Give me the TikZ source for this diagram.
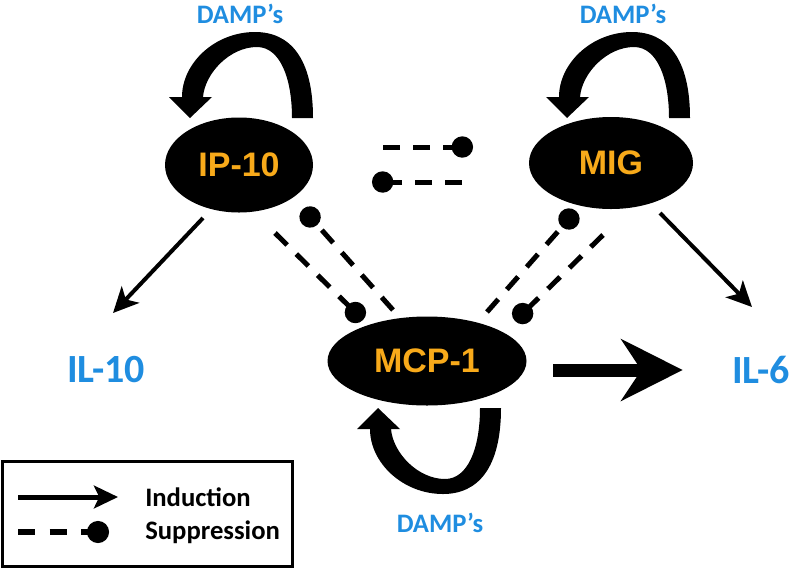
\documentclass[tikz,border=0pt]{standalone}
\usepackage{fontspec}
\setmainfont{Carlito}
\newfontfamily\arialbf{Liberation Sans}[BoldFont={* Bold}]
\usetikzlibrary{arrows.meta}
\usetikzlibrary{shapes.geometric}

\definecolor{dampblue}{RGB}{31,141,224}
\definecolor{cytorange}{RGB}{248,170,26}

\tikzset{
  cyto/.style={ellipse,fill=black,inner sep=0pt,text=cytorange,
    font=\arialbf\bfseries\fontsize{25.5pt}{27pt}\selectfont},
  il/.style={inner sep=0pt,text=dampblue,font=\bfseries\fontsize{30pt}{32pt}\selectfont},
  damp/.style={inner sep=0pt,text=dampblue,font=\bfseries\fontsize{20pt}{22pt}\selectfont},
  legtext/.style={inner sep=0pt,anchor=west,font=\bfseries\fontsize{20pt}{22pt}\selectfont},
  induce/.style={line width=3pt,-{Stealth[length=19pt,width=18pt,inset=5pt]}},
  suppress/.style={line width=3.75pt,dash pattern=on 12.75pt off 9.75pt,-{Circle[length=16pt]}},
  damploop/.pic={
    \fill (123,0) .. controls (123,-60) and (100,-86) .. (65,-86)
      .. controls (25,-86) and (-8,-55) .. (-8,-21) -- (-21,-21) -- (0,0)
      -- (22,-21) -- (13,-21) .. controls (15,-45) and (40,-71) .. (67,-71)
      .. controls (90,-71) and (102,-40) .. (102,0) -- cycle;
  }
}

\begin{document}
\begin{tikzpicture}[x=0.75pt,y=-0.75pt]
\useasboundingbox (0,0) rectangle (792,569);

% cytokines
\node[cyto,minimum width=148*0.75pt,minimum height=95*0.75pt] (IP) at (239,165) {IP-10};
\node[cyto,minimum width=164*0.75pt,minimum height=92*0.75pt] (MIG) at (611,163) {MIG};
\node[cyto,minimum width=199*0.75pt,minimum height=89*0.75pt] (MCP) at (427,361) {MCP-1};
\node[il] (ILten) at (106,370) {IL-10};
\node[il,anchor=west] (ILsix) at (732,370) {IL-6};

% DAMP's loops
\node[damp] (D1) at (240,14) {DAMP’s};
\node[damp] (D2) at (623,14) {DAMP’s};
\node[damp] (D3) at (440,523) {DAMP’s};
\pic at (190,118) {damploop};
\pic at (567,118) {damploop};
\pic[yscale=-1] at (378,408) {damploop};

% induction
\coordinate (a1) at (203,218);
\coordinate (a2) at (113,313);
\coordinate (b1) at (660,213);
\coordinate (b2) at (752,307);
\draw[induce] (a1) -- (a2);
\draw[induce] (b1) -- (b2);
\draw[line width=9.75pt,-{Stealth[length=46pt,width=46pt,inset=15pt]}]
  ([xshift=20pt]MCP.east |- ILsix.west) -- ([xshift=-37pt]ILsix.west);

% suppression
\coordinate (s1) at (383,147);
\coordinate (s2) at (473,147);
\coordinate (s3) at (462,182);
\coordinate (s4) at (372,182);
\draw[suppress] (s1) -- (s2);
\draw[suppress] (s3) -- (s4);
\coordinate (p1) at (275,233);
\coordinate (p2) at (363,320);
\coordinate (q1) at (393,310);
\coordinate (q2) at (303,209);
\coordinate (r1) at (487,312);
\coordinate (r2) at (576,211);
\coordinate (t1) at (603,235);
\coordinate (t2) at (515,321);
\draw[suppress] (p1) -- (p2);
\draw[suppress] (q1) -- (q2);
\draw[suppress] (r1) -- (r2);
\draw[suppress] (t1) -- (t2);

% legend
\draw[line width=2.25pt] (2,461) rectangle (292,566);
\coordinate (L1) at (18,497);
\coordinate (L2) at (118,497);
\coordinate (L3) at (18,532);
\coordinate (L4) at (109,532);
\draw[line width=3.75pt,-{Stealth[length=18pt,width=17pt,inset=4pt]}] (L1) -- (L2);
\draw[line width=5pt,dash pattern=on 12.75pt off 11pt,-{Circle[length=16.5pt]}] (L3) -- (L4);
\node[legtext] (Ind) at (145,497) {Induction};
\node[legtext] (Sup) at (145,532) {Suppression};
\end{tikzpicture}
\end{document}
